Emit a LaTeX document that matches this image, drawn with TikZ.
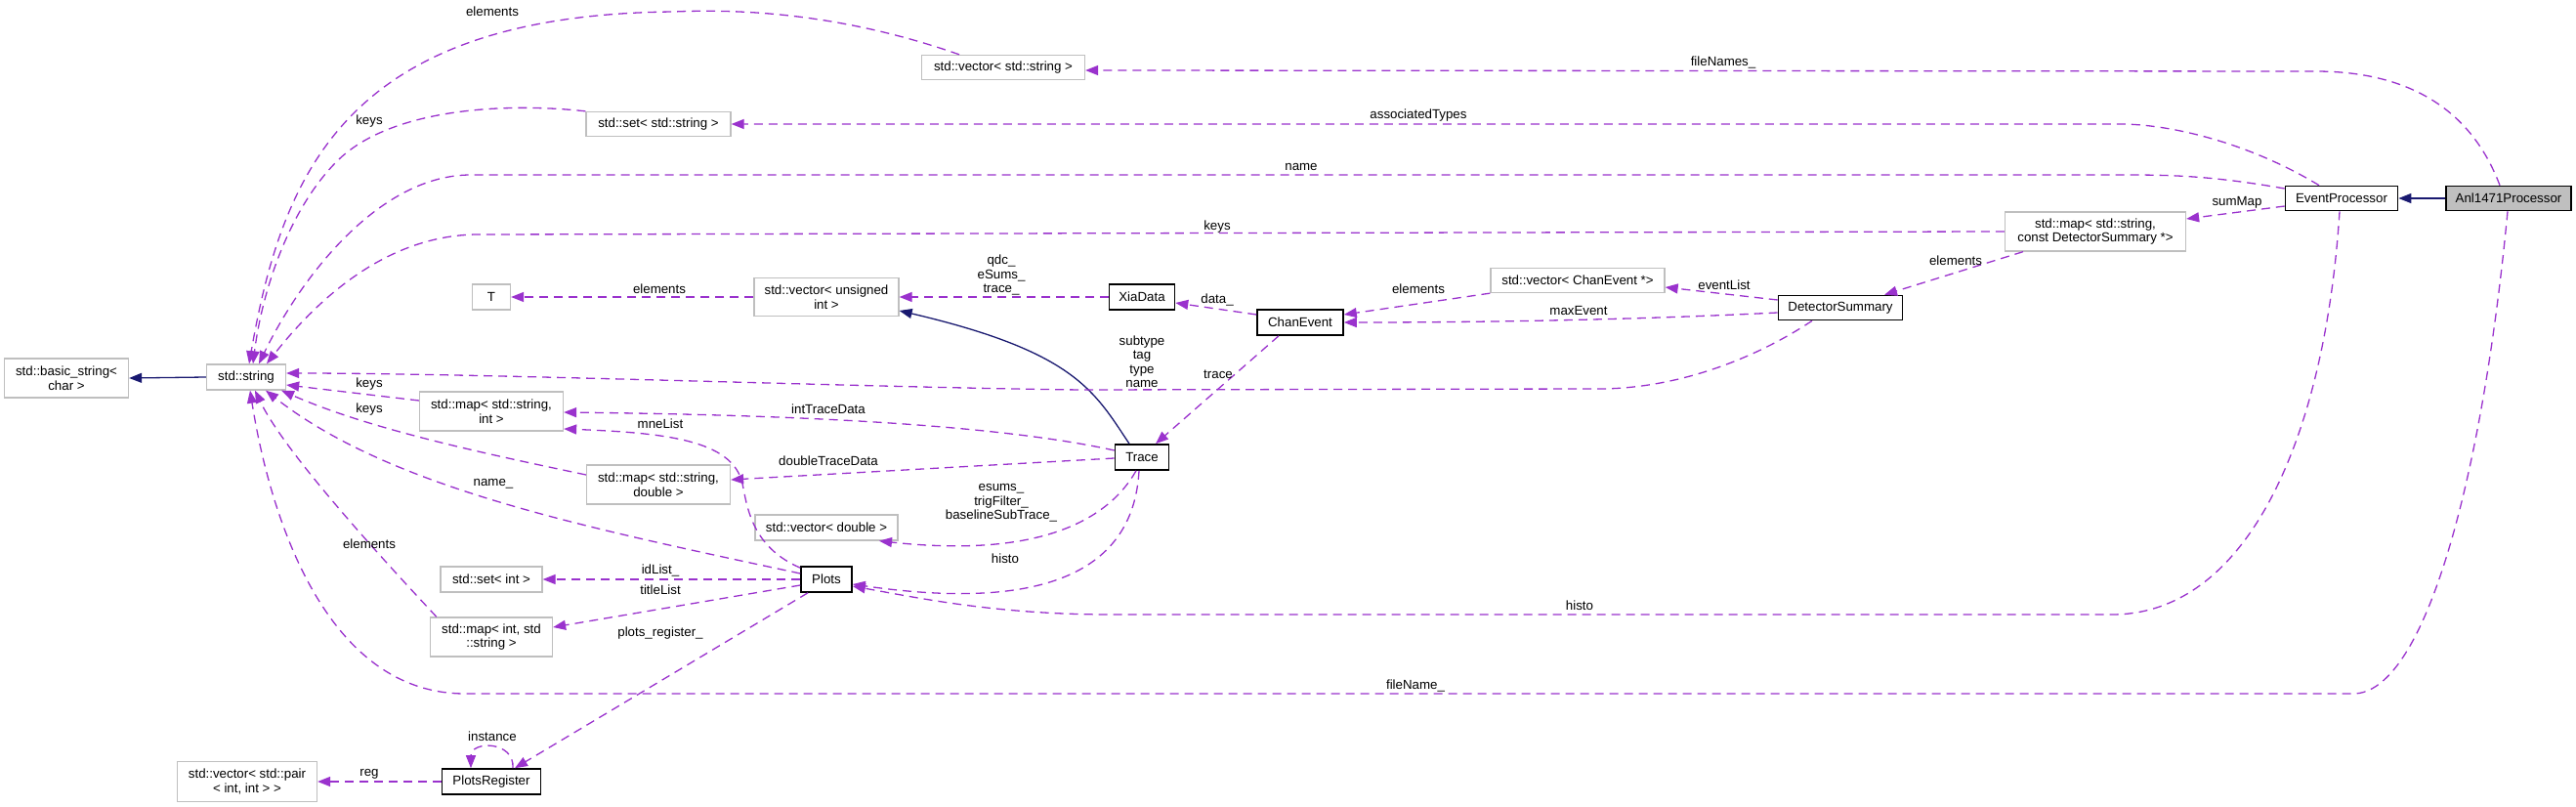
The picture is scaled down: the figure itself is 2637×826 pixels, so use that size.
\documentclass[tikz,border=0pt]{standalone}
\usepackage{fontspec}
\setmainfont{Liberation Sans}
\usetikzlibrary{arrows.meta}
\definecolor{edgepurple}{HTML}{9A32CD}
\definecolor{inhblue}{HTML}{191970}
\definecolor{boxgray}{HTML}{BFBFBF}
\begin{document}
\begin{tikzpicture}[x=1pt,y=-1pt,
  every node/.style={font=\fontsize{13.3}{14.5}\selectfont, inner sep=0pt, align=center},
  gbox/.style={draw=boxgray, line width=1.3pt, fill=white},
  bbox/.style={draw=black, line width=1.6pt, fill=white},
  usage/.style={draw=edgepurple, line width=1.3pt, dash pattern=on 9pt off 6pt, -{Triangle[length=13pt,width=10pt]}},
  inh/.style={draw=inhblue, line width=1.3pt, -{Triangle[length=13pt,width=10pt]}},
  lbl/.style={fill=none}
]
\useasboundingbox (0,0) rectangle (2637,826);

% ---------- nodes ----------
\node[gbox, minimum width=127pt, minimum height=40pt] (bstr) at (68,387) {std::basic\_string<\\ char >};
\node[gbox, minimum width=81pt, minimum height=26pt] (str) at (252,386) {std::string};
\node[gbox, minimum width=167pt, minimum height=25pt] (vstr) at (1027,69) {std::vector< std::string >};
\node[gbox, minimum width=148pt, minimum height=25pt] (sstr) at (674,127) {std::set< std::string >};
\node[gbox, minimum width=39pt, minimum height=26pt] (T) at (503,304) {T};
\node[gbox, minimum width=148pt, minimum height=39pt] (vuint) at (846,304) {std::vector< unsigned\\ int >};
\node[bbox, minimum width=67pt, minimum height=26pt] (xia) at (1169,304) {XiaData};
\node[bbox, minimum width=88pt, minimum height=26pt] (chan) at (1331,330) {ChanEvent};
\node[gbox, minimum width=178pt, minimum height=25pt] (vchan) at (1615,287) {std::vector< ChanEvent *>};
\node[bbox, minimum width=127pt, minimum height=25pt] (det) at (1884,315) {DetectorSummary};
\node[gbox, minimum width=185pt, minimum height=40pt] (mdet) at (2145,237) {std::map< std::string,\\ const DetectorSummary *>};
\node[bbox, minimum width=115pt, minimum height=25pt] (ep) at (2397,203) {EventProcessor};
\node[draw=black, line width=1.6pt, fill=boxgray, minimum width=128pt, minimum height=25pt] (anl) at (2568,203) {Anl1471Processor};
\node[gbox, minimum width=147pt, minimum height=40pt] (msi) at (503,421) {std::map< std::string,\\ int >};
\node[gbox, minimum width=147pt, minimum height=40pt] (msd) at (674,496) {std::map< std::string,\\ double >};
\node[gbox, minimum width=146pt, minimum height=26pt] (vdbl) at (846,540) {std::vector< double >};
\node[bbox, minimum width=55pt, minimum height=26pt] (trace) at (1169,468) {Trace};
\node[bbox, minimum width=52pt, minimum height=26pt] (plots) at (846,593) {Plots};
\node[gbox, minimum width=104pt, minimum height=26pt] (sint) at (503,593) {std::set< int >};
\node[gbox, minimum width=125pt, minimum height=40pt] (mis) at (503,652) {std::map< int, std\\ ::string >};
\node[bbox, minimum width=101pt, minimum height=26pt] (preg) at (503,800) {PlotsRegister};
\node[gbox, minimum width=143pt, minimum height=41pt] (vpair) at (253,800) {std::vector< std::pair\\ < int, int > >};

% ---------- inheritance ----------
\draw[inh] (anl.west) -- (ep.east);
\draw[inh] (str.west) -- (bstr.east);
\draw[inh] ([xshift=-13pt]trace.north) .. controls (1120,400) and (1100,360) .. ([yshift=-14pt]vuint.east);

% ---------- usage edges ----------
\draw[usage] ([xshift=-45pt]vstr.north) .. controls (880,20) and (780,8) .. (690,12) .. controls (360,15) and (290,170) .. ([xshift=3pt]str.north);
\draw[usage] (sstr.north west) .. controls (520,105) and (400,110) .. (345,165) .. controls (295,215) and (268,300) .. ([xshift=7pt]str.north);
\draw[usage] ([yshift=10pt]ep.west) .. controls (2270,181) and (2230,179) .. (2179,179) -- (482,179) .. controls (390,179) and (310,280) .. ([xshift=13pt]str.north);
\draw[usage] (mdet.west) -- (488,240) .. controls (400,241) and (330,300) .. ([xshift=21pt]str.north);
\draw[usage] ([xshift=-29pt]det.south) .. controls (1800,365) and (1720,398) .. (1636,398) -- (1108,399) .. controls (900,397) and (500,382) .. ([yshift=4pt]str.east);
\draw[usage] ([yshift=11pt]msi.west) -- ([yshift=-8pt]str.east);
\draw[usage] ([yshift=10pt]msd.west) .. controls (500,465) and (380,440) .. ([xshift=36pt]str.south);
\draw[usage] ([yshift=6pt]plots.west) .. controls (600,540) and (400,500) .. ([xshift=20pt]str.south);
\draw[usage] ([xshift=7pt]mis.north west) .. controls (380,560) and (290,460) .. ([xshift=9pt]str.south);
\draw[usage] ([xshift=-1pt]anl.south) .. controls (2540,500) and (2480,710) .. (2409,710) -- (476,710) .. controls (330,710) and (275,520) .. ([xshift=4pt]str.south);
\draw[usage] ([xshift=-9pt]anl.north) .. controls (2525,100) and (2450,73) .. (2370,73) -- ([yshift=-3pt]vstr.east);
\draw[usage] ([xshift=-23pt]ep.north) .. controls (2300,145) and (2220,127) .. (2170,127) -- (sstr.east);
\draw[usage] ([yshift=-8pt]ep.west) -- ([yshift=13pt]mdet.east);
\draw[usage] ([xshift=-2pt]ep.south) .. controls (2380,450) and (2300,629) .. (2162,629) -- (1137,629) .. controls (1020,629) and (940,612) .. ([yshift=-7pt]plots.east);
\draw[usage] ([xshift=-74pt]mdet.south) -- ([xshift=45pt]det.north);
\draw[usage] ([yshift=8pt]det.west) -- ([yshift=-7pt]vchan.east);
\draw[usage] ([yshift=-5pt]det.west) .. controls (1700,326) and (1550,330) .. (chan.east);
\draw[usage] (vchan.south west) -- ([yshift=8pt]chan.east);
\draw[usage] ([yshift=8pt]chan.west) -- ([yshift=-6pt]xia.east);
\draw[usage] ([xshift=-22pt]chan.south) -- ([xshift=14pt]trace.north);
\draw[usage] (xia.west) -- (vuint.east);
\draw[usage] (vuint.west) -- (T.east);
\draw[usage] ([yshift=7pt]trace.west) .. controls (1000,430) and (750,424) .. ([yshift=-1pt]msi.east);
\draw[usage] ([yshift=-1pt]trace.west) -- ([yshift=5pt]msd.east);
\draw[usage] ([xshift=-6pt]trace.south) .. controls (1130,540) and (1050,570) .. ([xshift=54pt]vdbl.south);
\draw[usage] ([xshift=-3pt]trace.south) .. controls (1160,590) and (1060,625) .. ([yshift=-5pt]plots.east);
\draw[usage] ([yshift=-2pt]plots.north west) .. controls (770,560) and (765,520) .. (760,495) .. controls (750,450) and (680,443) .. ([yshift=-18pt]msi.east);
\draw[usage] (plots.west) -- (sint.east);
\draw[usage] ([yshift=-6pt]plots.west) -- ([yshift=10pt]mis.east);
\draw[usage] ([xshift=-19pt]plots.south) -- ([xshift=24pt]preg.north);
\draw[usage] ([xshift=22pt]preg.north) .. controls (527,758) and (482,758) .. ([xshift=-21pt]preg.north);
\draw[usage] (preg.west) -- (vpair.east);

% ---------- labels ----------
\node[lbl] (l1) at (504,12) {elements};
\node[lbl] (l2) at (378,124) {keys};
\node[lbl] (l3) at (1332,171) {name};
\node[lbl] (l4) at (1246,232) {keys};
\node[lbl] (l5) at (1764,64) {fileNames\_};
\node[lbl] (l6) at (1452,118) {associatedTypes};
\node[lbl] (l7) at (2290,207) {sumMap};
\node[lbl] (l8) at (2002,267) {elements};
\node[lbl] (l9) at (1765,292) {eventList};
\node[lbl] (l10) at (1616,318) {maxEvent};
\node[lbl] (l11) at (1452,296) {elements};
\node[lbl] (l12) at (1246,307) {data\_};
\node[lbl] (l13) at (1025,282) {qdc\_\\eSums\_\\trace\_};
\node[lbl] (l14) at (675,296) {elements};
\node[lbl] (l15) at (1169,370) {subtype\\tag\\type\\name};
\node[lbl] (l16) at (1247,383) {trace};
\node[lbl] (l17) at (378,393) {keys};
\node[lbl] (l18) at (378,419) {keys};
\node[lbl] (l19) at (848,419) {intTraceData};
\node[lbl] (l20) at (676,434) {mneList};
\node[lbl] (l21) at (848,472) {doubleTraceData};
\node[lbl] (l22) at (505,495) {name\_};
\node[lbl] (l23) at (1025,515) {esums\_\\trigFilter\_\\baselineSubTrace\_};
\node[lbl] (l24) at (378,557) {elements};
\node[lbl] (l25) at (1029,572) {histo};
\node[lbl] (l26) at (676,584) {idList\_};
\node[lbl] (l27) at (676,604) {titleList};
\node[lbl] (l28) at (1617,620) {histo};
\node[lbl] (l29) at (676,648) {plots\_register\_};
\node[lbl] (l30) at (1449,702) {fileName\_};
\node[lbl] (l31) at (504,754) {instance};
\node[lbl] (l32) at (378,792) {reg};
\end{tikzpicture}
\end{document}
